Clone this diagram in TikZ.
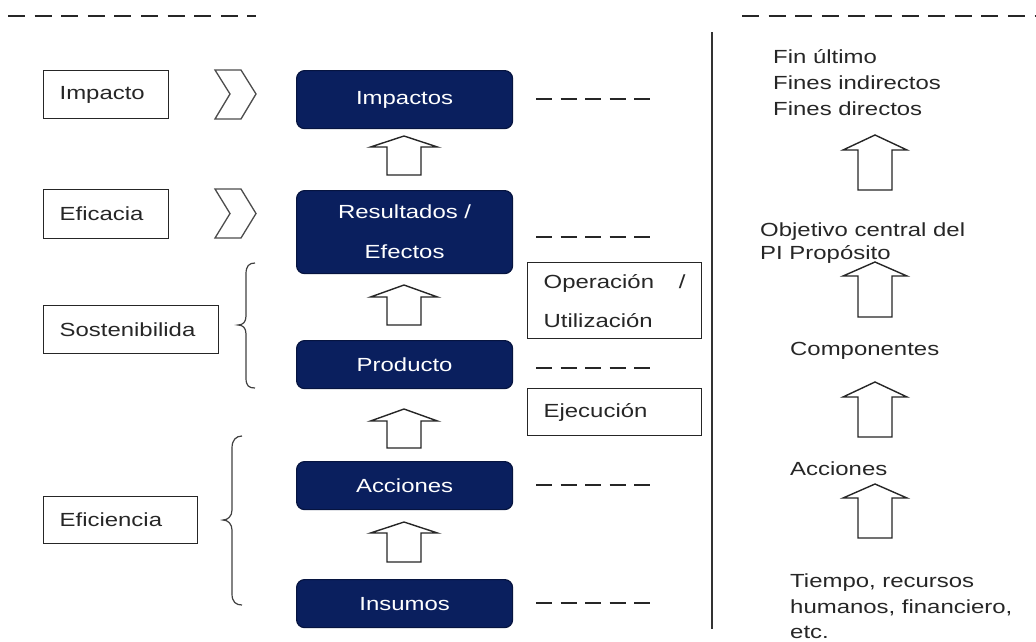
\documentclass[tikz,border=0pt]{standalone}
\usepackage{fontspec}
\setmainfont{Liberation Sans}[FakeStretch=1.26]
\definecolor{txt}{HTML}{262626}
\definecolor{navy}{HTML}{0A1F5E}
\definecolor{navyd}{HTML}{061440}
\newcommand\blkup[6]{\draw[blk] (#1-#5,#4) -- (#1-#5,#3) -- (#1-#6,#3) -- (#1,#2) -- (#1+#6,#3) -- (#1+#5,#3) -- (#1+#5,#4) -- cycle;}
\begin{document}
\begin{tikzpicture}[x=1pt,y=-1pt,
  every node/.style={font=\fontsize{19}{26}\selectfont, text=txt, inner sep=0pt},
  lbox/.style={draw=txt, line width=1.3pt, anchor=north west, inner xsep=16pt, align=left},
  bbox/.style={draw=navyd, fill=navy, rounded corners=8pt, line width=1.2pt, minimum width=216pt, text=white, anchor=north west, align=center},
  dsh/.style={line width=1.6pt, dash pattern=on 16pt off 8.5pt, draw=txt},
  topdsh/.style={line width=1.6pt, dash pattern=on 17pt off 9.6pt, draw=txt},
  blk/.style={draw=black!85, fill=white, line width=1.4pt, line join=miter},
  chev/.style={draw=black!70, line width=1.3pt, fill=white, line join=miter},
  brc/.style={draw=black!75, line width=1.2pt},
  rtxt/.style={anchor=base west}]
\useasboundingbox (0,0) rectangle (1036,641);

% top dashed lines
\draw[topdsh] (8,16) -- (256,16);
\draw[topdsh] (742,16) -- (1040,16);

% left boxes
\node[lbox, minimum width=125pt, minimum height=48pt, text width=93pt] (impacto) at (43,70) {Impacto};
\node[lbox, minimum width=125pt, minimum height=49pt, text width=93pt] (eficacia) at (43,189) {Eficacia};
\node[lbox, minimum width=175pt, minimum height=48pt, text width=143pt] (sosten) at (43,305) {Sostenibilida};
\node[lbox, minimum width=154pt, minimum height=47pt, text width=122pt] (eficien) at (43,496) {Eficiencia};

% chevrons
\draw[chev] (215,70) -- (241,70) -- (256,94) -- (241,119) -- (215,119) -- (230,94) -- cycle;
\draw[chev] (215,189) -- (241,189) -- (256,213.5) -- (241,238) -- (215,238) -- (230,213.5) -- cycle;

% braces
\draw[brc] (255,263) .. controls (249,263) and (246,266) .. (246,274) -- (246,316)
  .. controls (246,322) and (243,325) .. (238,325)
  .. controls (243,325) and (246,328) .. (246,334) -- (246,378)
  .. controls (246,386) and (249,388) .. (255,388);
\draw[brc] (242,436) .. controls (236,436) and (232,440) .. (232,448) -- (232,510)
  .. controls (232,516) and (228,520) .. (223,520)
  .. controls (228,520) and (232,524) .. (232,530) -- (232,594)
  .. controls (232,602) and (236,605) .. (242,605);

% blue boxes
\node[bbox, minimum height=58pt] (impactos) at (296,70) {Impactos};
\node[bbox, minimum height=83pt, font=\fontsize{19}{40}\selectfont] (result) at (296,190) {Resultados /\\Efectos};
\node[bbox, minimum height=48pt] (producto) at (296,340) {Producto};
\node[bbox, minimum height=48pt] (acciones) at (296,461) {Acciones};
\node[bbox, minimum height=48pt] (insumos) at (296,579) {Insumos};

% middle block arrows
\blkup{404}{136}{147}{175}{17}{33.5}
\blkup{404}{285}{297}{325}{17}{33.5}
\blkup{404}{409}{421}{448}{17}{33.5}
\blkup{404}{522}{533}{562}{17}{33.5}

% dashes right of blue boxes
\draw[dsh] (536,99) -- (652,99);
\draw[dsh] (536,237) -- (652,237);
\draw[dsh] (536,368) -- (652,368);
\draw[dsh] (536,485) -- (652,485);
\draw[dsh] (536,603) -- (652,603);

% Operacion / Ejecucion boxes
\node[lbox, minimum width=174pt, minimum height=76pt, text width=142pt, font=\fontsize{19}{39}\selectfont] (oper) at (527,262) {\makebox[142pt]{Operación\hfill/}\\Utilización};
\node[lbox, minimum width=174pt, minimum height=47pt, text width=142pt] (ejec) at (527,388) {Ejecución};

% vertical separator
\draw[line width=2pt, draw=black!80] (712,32) -- (712,629);

% right column
\node[rtxt] (r1) at (773,63) {Fin último};
\node[rtxt] (r2) at (773,89) {Fines indirectos};
\node[rtxt] (r3) at (773,115) {Fines directos};
\node[rtxt] (r4) at (760,236) {Objetivo central del};
\node[rtxt] (r5) at (760,259) {PI Propósito};
\node[rtxt] (r6) at (790,355) {Componentes};
\node[rtxt] (r7) at (790,475) {Acciones};
\node[rtxt] (r8) at (790,587) {Tiempo, recursos};
\node[rtxt] (r9) at (790,613) {humanos, financiero,};
\node[rtxt] (r10) at (790,638.5) {etc.};

\blkup{875}{135}{150}{190}{17}{32}
\blkup{875}{262}{276}{317}{17}{32}
\blkup{875}{382}{397}{437}{17}{32}
\blkup{875}{484}{498}{538}{17}{32}
\end{tikzpicture}
\end{document}
